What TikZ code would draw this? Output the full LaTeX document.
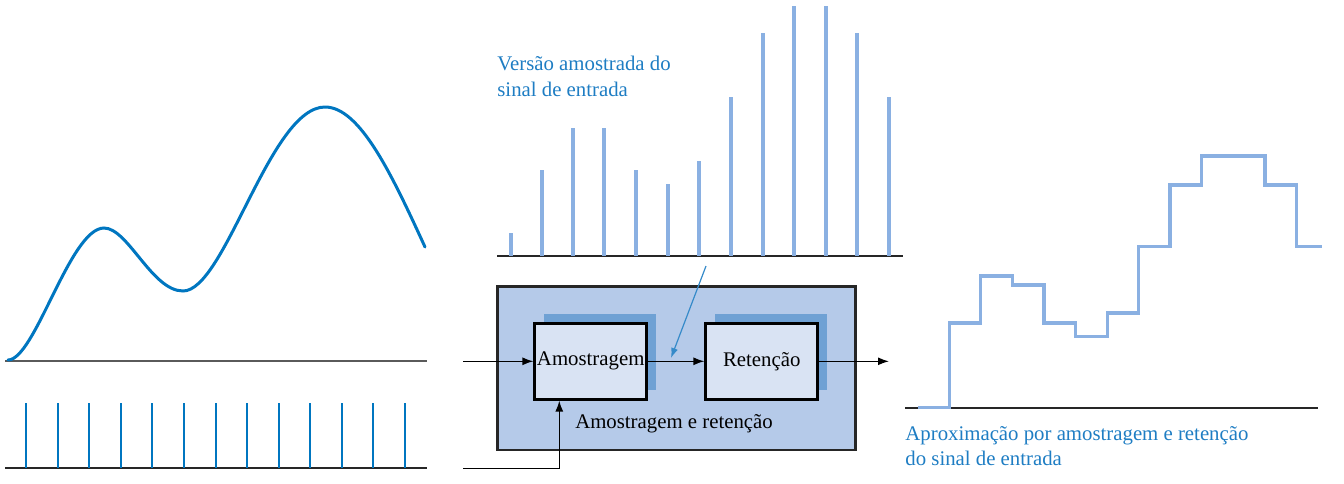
\documentclass[tikz,border=0pt]{standalone}
\usepackage{fontspec}
\setmainfont{Liberation Serif}
\usetikzlibrary{arrows.meta,shadows}
\definecolor{curveblue}{RGB}{0,118,192}
\definecolor{spikeblue}{RGB}{138,176,226}
\definecolor{textblue}{RGB}{30,125,195}
\definecolor{outerfill}{RGB}{181,202,233}
\definecolor{innerfill}{RGB}{217,227,243}
\definecolor{shadowblue}{RGB}{111,161,212}
\definecolor{axisgray}{RGB}{90,90,90}
\begin{document}
\begin{tikzpicture}[x=0.5pt,y=-0.5pt,
  lbl/.style={font=\fontsize{10.4pt}{13pt}\selectfont, inner sep=0pt},
  bluelbl/.style={lbl, text=textblue, anchor=base west},
  axisline/.style={draw=axisgray, line width=1pt},
  darkaxis/.style={draw=black!85, line width=0.8pt},
  spike/.style={draw=spikeblue, line width=1.6pt},
  clockspike/.style={draw=curveblue, line width=1.4pt},
  signal/.style={draw=curveblue, line width=1.5pt, line cap=round},
  stair/.style={draw=spikeblue, line width=1.6pt},
  blockbox/.style={lbl, draw=black, line width=1.3pt, fill=innerfill,
    minimum width=56pt, minimum height=38pt, inner sep=1pt,
    general shadow={fill=shadowblue, shadow xshift=4.6pt, shadow yshift=4.5pt}},
  outerbox/.style={draw=black!85, line width=1.3pt, fill=outerfill,
    minimum width=179pt, minimum height=81.7pt, inner sep=0pt},
  arr/.style={draw=black, line width=0.7pt, -{Latex[length=5.5pt,width=4pt]}},
  ptrarr/.style={draw=textblue!90, line width=0.6pt, -{Latex[length=5pt,width=3.5pt]}}
]
\useasboundingbox (0,0) rectangle (1344,483);

% ---------- left: input signal ----------
\draw[axisline] (5,360.7) -- (427,360.7);
\draw[signal] (8,360) .. controls (35,360) and (70,228) .. (104,228)
  .. controls (128,228) and (152,291) .. (183,291)
  .. controls (225,291) and (270,107) .. (325,107)
  .. controls (360,107) and (392,175) .. (425,247);

% ---------- left: clock impulses ----------
\draw[darkaxis] (5,468) -- (427,468);
\foreach \x in {26,58,89,121,152,184,216,247,279,310,342,373,405}
  \draw[clockspike] (\x,468) -- (\x,403);

% ---------- middle: sampled version ----------
\draw[darkaxis] (497,255.7) -- (903,255.7);
\foreach \x/\t in {511/233,542/170,573/128,604/128,636/170,668/184,699/161,
                   731/97,763/33,794/6,826/6,857/33,889/97}
  \draw[spike] (\x,255.7) -- (\x,\t);
\node[bluelbl] (vlab1) at (497,70.7) {Versão amostrada do};
\node[bluelbl] (vlab2) at (497,96.7) {sinal de entrada};

% ---------- middle: sample and hold block ----------
\node[outerbox] (sh) at (676.7,368.3) {};
\node[blockbox] (amo) at (590.7,361.3) {Amostragem};
\node[blockbox] (ret) at (761.7,361.3) {Retenção};
\node[lbl, anchor=base] (shlab) at (674,428) {Amostragem e retenção};

\coordinate (in) at (463,361.3);
\coordinate (out) at (889,361.3);
\coordinate (clk) at (463,468.3);
\coordinate (clkturn) at (559.3,468.3);
\coordinate (ptr) at (706,266);
\coordinate (ptrtip) at (671,358);

\draw[arr] (in) -- (amo.west);
\draw[arr] (amo.east) -- (ret.west);
\draw[arr] (ret.east) -- (out);
\draw[arr] (clk) -- (clkturn) -- (clkturn |- amo.south);
\draw[ptrarr] (ptr) -- (ptrtip);

% ---------- right: sample-and-hold approximation ----------
\draw[darkaxis] (905,407.7) -- (1318,407.7);
\draw[stair] (918,407.7) -- (949.3,407.7) -- (949.3,323) -- (980.7,323)
  -- (980.7,276) -- (1012.7,276) -- (1012.7,285) -- (1044,285)
  -- (1044,323) -- (1075.7,323) -- (1075.7,336.7) -- (1107.3,336.7)
  -- (1107.3,313) -- (1138.3,313) -- (1138.3,246.7) -- (1170,246.7)
  -- (1170,185) -- (1201.7,185) -- (1201.7,156) -- (1265,156)
  -- (1265,185) -- (1296.7,185) -- (1296.7,246.7) -- (1322.3,246.7);
\node[bluelbl] (alab1) at (905,440) {Aproximação por amostragem e retenção};
\node[bluelbl] (alab2) at (905,465) {do sinal de entrada};
\end{tikzpicture}
\end{document}
